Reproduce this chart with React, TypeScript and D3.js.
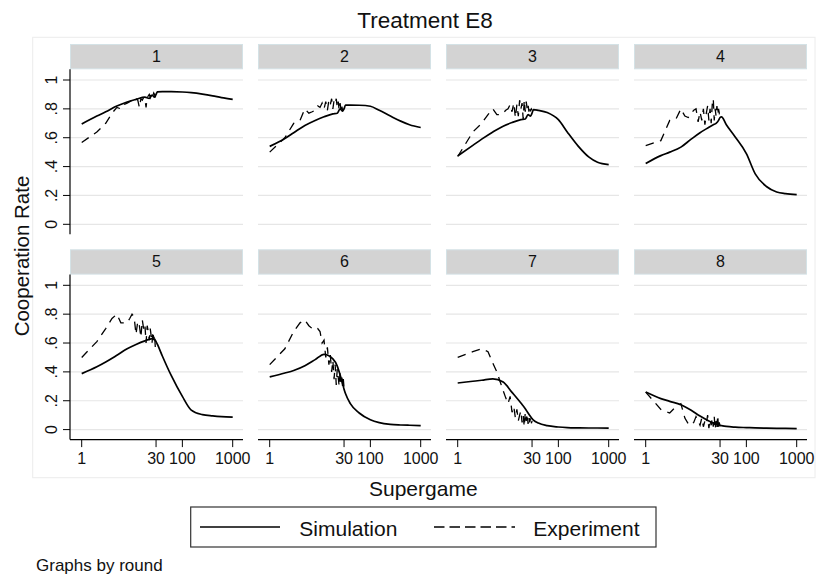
import React from "react";
import * as d3 from "d3";

// ---------- data ----------
const rounds = ["1", "2", "3", "4", "5", "6", "7", "8"];

const simSupergame = [1, 2, 3, 5, 8, 12, 18, 22, 25, 28, 30, 32, 40, 60, 100, 150, 250, 400, 600, 1000];
const simRound1 = [0.695, 0.75, 0.78, 0.82, 0.848, 0.866, 0.882, 0.872, 0.895, 0.882, 0.9, 0.918, 0.92, 0.92, 0.917, 0.912, 0.902, 0.89, 0.878, 0.866];
const simRound2 = [0.54, 0.595, 0.635, 0.685, 0.72, 0.745, 0.765, 0.77, 0.8, 0.785, 0.8, 0.826, 0.826, 0.825, 0.818, 0.79, 0.75, 0.715, 0.69, 0.671];
const simRound3 = [0.474, 0.547, 0.59, 0.64, 0.68, 0.705, 0.725, 0.73, 0.76, 0.75, 0.77, 0.795, 0.79, 0.775, 0.725, 0.64, 0.54, 0.467, 0.43, 0.414];
const simRound4 = [0.421, 0.476, 0.5, 0.535, 0.59, 0.635, 0.672, 0.69, 0.7, 0.72, 0.74, 0.745, 0.69, 0.605, 0.49, 0.35, 0.262, 0.224, 0.212, 0.205];
const simRound5 = [0.388, 0.435, 0.468, 0.515, 0.56, 0.59, 0.615, 0.625, 0.63, 0.625, 0.61, 0.59, 0.51, 0.375, 0.23, 0.135, 0.104, 0.095, 0.09, 0.087];
const simRound6 = [0.365, 0.392, 0.41, 0.443, 0.485, 0.522, 0.49, 0.44, 0.38, 0.32, 0.28, 0.25, 0.18, 0.115, 0.068, 0.048, 0.036, 0.032, 0.03, 0.028];
const simRound7 = [0.323, 0.335, 0.342, 0.352, 0.33, 0.258, 0.184, 0.145, 0.115, 0.09, 0.076, 0.066, 0.045, 0.027, 0.018, 0.014, 0.012, 0.011, 0.011, 0.01];
const simRound8 = [0.26, 0.215, 0.196, 0.172, 0.134, 0.094, 0.06, 0.047, 0.04, 0.034, 0.03, 0.028, 0.022, 0.017, 0.014, 0.012, 0.01, 0.009, 0.008, 0.007];

const expSupergame = [1, 2, 3, 4, 5, 6, 7, 8, 9, 10, 11, 12, 13, 14, 15, 16, 17, 18, 19, 20, 21, 22, 23, 24, 25, 26, 27, 28, 29, 30];
const expRound1 = [0.567, 0.64, 0.7, 0.77, 0.81, 0.8, 0.83, 0.84, 0.85, 0.86, 0.85, 0.87, 0.86, 0.81, 0.87, 0.86, 0.88, 0.87, 0.81, 0.88, 0.89, 0.9, 0.88, 0.91, 0.9, 0.89, 0.91, 0.9, 0.88, 0.91];
const expRound2 = [0.5, 0.6, 0.7, 0.72, 0.8, 0.77, 0.78, 0.79, 0.82, 0.81, 0.84, 0.8, 0.85, 0.79, 0.86, 0.83, 0.87, 0.8, 0.86, 0.84, 0.87, 0.81, 0.85, 0.79, 0.84, 0.8, 0.83, 0.78, 0.82, 0.8];
const expRound3 = [0.47, 0.64, 0.7, 0.76, 0.8, 0.76, 0.76, 0.77, 0.79, 0.8, 0.83, 0.78, 0.84, 0.74, 0.83, 0.75, 0.86, 0.8, 0.84, 0.73, 0.86, 0.78, 0.85, 0.8, 0.83, 0.78, 0.82, 0.79, 0.8, 0.79];
const expRound4 = [0.545, 0.58, 0.72, 0.73, 0.8, 0.75, 0.74, 0.77, 0.79, 0.8, 0.71, 0.78, 0.72, 0.8, 0.69, 0.77, 0.82, 0.72, 0.8, 0.7, 0.83, 0.87, 0.72, 0.8, 0.75, 0.82, 0.76, 0.8, 0.77, 0.78];
const expRound5 = [0.5, 0.61, 0.7, 0.77, 0.8, 0.74, 0.74, 0.74, 0.77, 0.8, 0.78, 0.66, 0.75, 0.72, 0.64, 0.76, 0.7, 0.73, 0.6, 0.72, 0.68, 0.62, 0.7, 0.65, 0.6, 0.68, 0.62, 0.66, 0.57, 0.6];
const expRound6 = [0.45, 0.56, 0.68, 0.74, 0.76, 0.72, 0.7, 0.71, 0.7, 0.68, 0.6, 0.62, 0.5, 0.57, 0.45, 0.52, 0.4, 0.48, 0.35, 0.45, 0.31, 0.42, 0.36, 0.3, 0.4, 0.33, 0.38, 0.3, 0.35, 0.29];
const expRound7 = [0.5, 0.54, 0.56, 0.54, 0.46, 0.4, 0.33, 0.27, 0.22, 0.18, 0.23, 0.12, 0.16, 0.08, 0.14, 0.06, 0.1, 0.13, 0.05, 0.1, 0.02, 0.12, 0.06, 0.11, 0.04, 0.09, 0.05, 0.08, 0.04, 0.06];
const expRound8 = [0.26, 0.14, 0.115, 0.16, 0.18, 0.08, 0.04, 0.03, 0.05, 0.09, 0.06, 0.03, 0.08, 0.02, 0.06, 0.04, 0.1, 0.01, 0.07, 0.03, 0.08, 0.02, 0.09, 0.0, 0.06, 0.01, 0.1, 0.0, 0.05, 0.02];

const yTicks = [0, 0.2, 0.4, 0.6, 0.8, 1];
const yTickLabels = ["0", ".2", ".4", ".6", ".8", "1"];
const xTicks = [1, 30, 100, 1000];
const xTickLabels = ["1", "30", "100", "1000"];

const simSeries = [simRound1, simRound2, simRound3, simRound4, simRound5, simRound6, simRound7, simRound8];
const expSeries = [expRound1, expRound2, expRound3, expRound4, expRound5, expRound6, expRound7, expRound8];

// ---------- layout ----------
const W = 817;
const H = 580;
const FONT = "'Liberation Sans', Arial, Helvetica, sans-serif";
const panelLeft0 = 70;
const panelStep = 188;
const panelW = 173;
const stripTop = [44, 249.3];
const stripH = 25.3;
const plotH = 165;

const xScale = d3.scaleLog().domain([1, 1000]).range([11.7, 162.7]);
const yScale = d3.scaleLinear().domain([0, 1]).range([155, 10.7]);

const simLine = d3
  .line<[number, number]>()
  .x((d) => xScale(d[0]))
  .y((d) => yScale(d[1]))
  .curve(d3.curveMonotoneX);
const expLine = d3
  .line<[number, number]>()
  .x((d) => xScale(d[0]))
  .y((d) => yScale(d[1]));

function Panel({ idx }: { idx: number }) {
  const col = idx % 4;
  const row = Math.floor(idx / 4);
  const left = panelLeft0 + col * panelStep;
  const sTop = stripTop[row];
  const top = sTop + stripH;
  const simPts = simSupergame.map((x, i) => [x, simSeries[idx][i]] as [number, number]);
  const expPts = expSupergame.map((x, i) => [x, expSeries[idx][i]] as [number, number]);
  return (
    <g>
      <rect x={left + 0.5} y={sTop + 0.5} width={panelW - 1} height={stripH - 1} fill="#d3d3d3" stroke="#d4e2e6" strokeWidth={1} />
      <text x={left + panelW / 2} y={sTop + 18} textAnchor="middle" fontSize={16} fontFamily={FONT} fill="#111">
        {rounds[idx]}
      </text>
      <g transform={`translate(${left},${top})`}>
        {yTicks.map((t) => (
          <line key={t} x1={0} x2={panelW} y1={yScale(t)} y2={yScale(t)} stroke="#e6e6e6" strokeWidth={1.2} />
        ))}
        <path d={expLine(expPts) || ""} fill="none" stroke="#000" strokeWidth={1.3} strokeDasharray="8.5,6.5" />
        <path d={simLine(simPts) || ""} fill="none" stroke="#000" strokeWidth={1.7} />
        {col === 0 && (
          <g>
            <line x1={0} x2={0} y1={0} y2={plotH} stroke="#000" strokeWidth={1.2} />
            {yTicks.map((t, i) => (
              <g key={t}>
                <line x1={-7} x2={0} y1={yScale(t)} y2={yScale(t)} stroke="#000" strokeWidth={1} />
                <text
                  transform={`translate(-13.5,${yScale(t)}) rotate(-90)`}
                  textAnchor="middle"
                  fontSize={16}
                  fontFamily={FONT}
                  fill="#111"
                >
                  {yTickLabels[i]}
                </text>
              </g>
            ))}
          </g>
        )}
        {row === 1 && (
          <g>
            <line x1={0} x2={panelW} y1={plotH} y2={plotH} stroke="#000" strokeWidth={1.2} />
            {xTicks.map((t, i) => (
              <g key={t}>
                <line x1={xScale(t)} x2={xScale(t)} y1={plotH} y2={plotH + 7.5} stroke="#000" strokeWidth={1} />
                <text x={xScale(t)} y={plotH + 24.3} textAnchor="middle" fontSize={16} fontFamily={FONT} fill="#111">
                  {xTickLabels[i]}
                </text>
              </g>
            ))}
          </g>
        )}
      </g>
    </g>
  );
}

export default function App() {
  return (
    <svg width={W} height={H} viewBox={`0 0 ${W} ${H}`} style={{ position: "absolute", left: 0, top: 0, background: "#fff" }}>
      <rect x={0} y={0} width={W} height={H} fill="#fff" />
      <rect x={32.7} y={37.3} width={782.3} height={440.4} fill="#fff" stroke="#ececec" strokeWidth={1} />
      <text x={425} y={28} textAnchor="middle" fontSize={22.5} fontFamily={FONT} fill="#111">
        Treatment E8
      </text>
      {rounds.map((r, i) => (
        <Panel key={r} idx={i} />
      ))}
      <text transform="translate(28.5,256) rotate(-90)" textAnchor="middle" fontSize={20.5} fontFamily={FONT} fill="#111">
        Cooperation Rate
      </text>
      <text x={423.3} y={496} textAnchor="middle" fontSize={21} fontFamily={FONT} fill="#111">
        Supergame
      </text>
      <rect x={190.7} y={507} width={465.3} height={40} fill="#fff" stroke="#333" strokeWidth={1.2} />
      <line x1={200} x2={280} y1={527} y2={527} stroke="#000" strokeWidth={1.6} />
      <text x={299.3} y={536} fontSize={21} fontFamily={FONT} fill="#111">
        Simulation
      </text>
      <line x1={434} x2={515} y1={527} y2={527} stroke="#000" strokeWidth={1.4} strokeDasharray="10.5,5" />
      <text x={533.3} y={536} fontSize={21} fontFamily={FONT} fill="#111">
        Experiment
      </text>
      <text x={36} y={571} fontSize={17} fontFamily={FONT} fill="#111">
        Graphs by round
      </text>
    </svg>
  );
}
